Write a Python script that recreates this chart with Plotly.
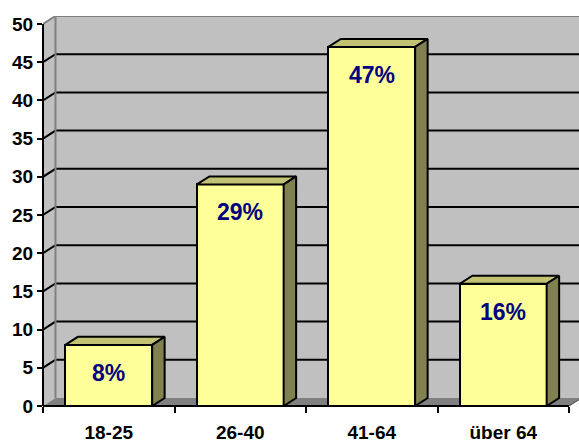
import plotly.graph_objects as go

# Age groups and their share (percent)
categories = ["18-25", "26-40", "41-64", "über 64"]
values = [8, 29, 47, 16]
y_ticks = [0, 5, 10, 15, 20, 25, 30, 35, 40, 45, 50]

# 3D depth offset in data units (x per category, y per value unit)
DX = 0.095
DY = 1.05
X_LO, X_HI = -0.5, 3.5
X_VIEW = 3.576
Y_TOP = 50
BAR_W = 0.66

FONT = "Liberation Sans, Arial, sans-serif"
FRONT = "#FFFF99"
TOP = "#C2C275"
SIDE = "#808050"

fig = go.Figure()

shapes = []
# back wall
shapes.append(dict(type="rect", xref="x", yref="y", layer="below",
                   x0=X_LO + DX, x1=X_VIEW + 0.2, y0=DY, y1=Y_TOP + DY,
                   fillcolor="#C0C0C0", line=dict(width=0)))
# left side wall
shapes.append(dict(type="path", xref="x", yref="y", layer="below",
                   path=f"M{X_LO},0 L{X_LO},{Y_TOP} L{X_LO + DX},{Y_TOP + DY} L{X_LO + DX},{DY} Z",
                   fillcolor="#C0C0C0", line=dict(width=0)))
# floor
shapes.append(dict(type="path", xref="x", yref="y", layer="below",
                   path=f"M{X_LO},0 L{X_HI},0 L{X_HI + DX},{DY} L{X_LO + DX},{DY} Z",
                   fillcolor="#808080", line=dict(width=0)))
# gridlines on side wall and back wall
for k in y_ticks[1:-1]:
    shapes.append(dict(type="path", xref="x", yref="y", layer="below",
                       path=f"M{X_LO},{k} L{X_LO + DX},{k + DY} L{X_VIEW + 0.2},{k + DY}",
                       line=dict(color="black", width=2)))
# wall edges
shapes.append(dict(type="path", xref="x", yref="y", layer="below",
                   path=f"M{X_LO + DX},{DY} L{X_LO + DX},{Y_TOP + DY}",
                   line=dict(color="#808080", width=2)))
shapes.append(dict(type="path", xref="x", yref="y", layer="below",
                   path=f"M{X_LO},{Y_TOP} L{X_LO + DX},{Y_TOP + DY} L{X_VIEW + 0.2},{Y_TOP + DY}",
                   line=dict(color="#808080", width=2)))
# floor right edge
shapes.append(dict(type="path", xref="x", yref="y", layer="below",
                   path=f"M{X_HI},0 L{X_HI + DX},{DY}",
                   line=dict(color="#404040", width=1)))
# value axis line and category axis line
shapes.append(dict(type="line", xref="paper", yref="y", x0=0, x1=0, y0=0, y1=Y_TOP,
                   line=dict(color="black", width=2)))
shapes.append(dict(type="line", xref="x", yref="paper", x0=X_LO, x1=X_HI, y0=0, y1=0,
                   line=dict(color="black", width=2)))

xs = list(range(len(categories)))

# front faces of the columns
fig.add_trace(go.Bar(x=xs, y=values, width=BAR_W, marker=dict(color=FRONT,
                     line=dict(color="black", width=2)), hoverinfo="skip",
                     showlegend=False))

# top and side faces of the columns
for x, v in zip(xs, values):
    x0, x1 = x - BAR_W / 2, x + BAR_W / 2
    fig.add_trace(go.Scatter(
        x=[x0, x1, x1 + DX, x0 + DX, x0], y=[v, v, v + DY, v + DY, v],
        mode="lines", fill="toself", fillcolor=TOP,
        line=dict(color="black", width=2), hoverinfo="skip", showlegend=False))
    fig.add_trace(go.Scatter(
        x=[x1, x1, x1 + DX, x1 + DX, x1], y=[0, v, v + DY, DY, 0],
        mode="lines", fill="toself", fillcolor=SIDE,
        line=dict(color="black", width=2), hoverinfo="skip", showlegend=False))

annotations = [dict(x=x, y=v, xref="x", yref="y", text=f"<b>{v}%</b>", showarrow=False,
                    yshift=-28, font=dict(family=FONT, size=23, color="#000080"))
               for x, v in zip(xs, values)]

fig.update_layout(
    width=579, height=442,
    margin=dict(l=43, r=0, t=16, b=36),
    paper_bgcolor="white", plot_bgcolor="white",
    shapes=shapes, annotations=annotations,
    bargap=0,
    xaxis=dict(range=[X_LO, X_VIEW], tickvals=xs,
               ticktext=[f"<b>{c}</b>" for c in categories],
               ticks="", showgrid=False, zeroline=False, showline=False,
               ticklabelstandoff=13,
               tickfont=dict(family=FONT, size=19, color="black"),
               minor=dict(ticks="outside", tick0=X_LO, dtick=1, ticklen=6,
                          tickwidth=2, tickcolor="black", showgrid=False)),
    yaxis=dict(range=[0, 51.05], tickvals=y_ticks,
               ticktext=[f"<b>{t}</b>" for t in y_ticks],
               ticks="outside", ticklen=5,
               tickwidth=2, tickcolor="black", showgrid=False, zeroline=False,
               showline=False,
               tickfont=dict(family=FONT, size=19, color="black")),
)

fig.write_html("out.html")
